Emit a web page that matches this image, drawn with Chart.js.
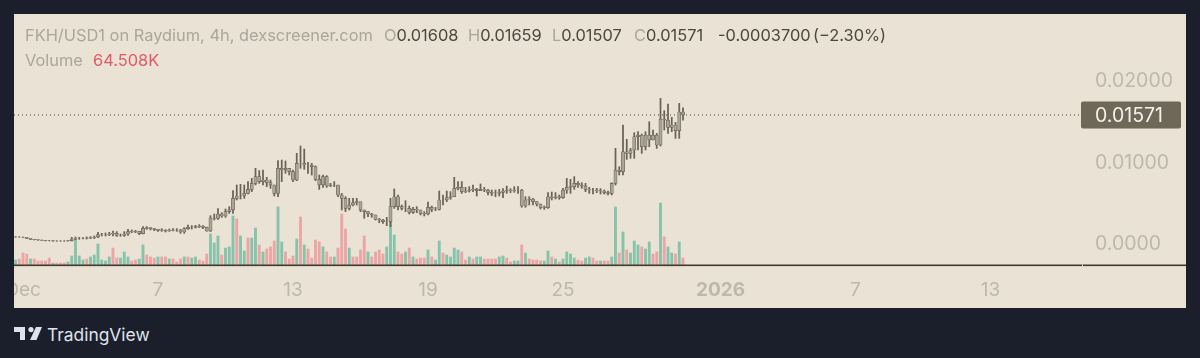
<!DOCTYPE html>
<html><head><meta charset="utf-8">
<script src="https://cdn.jsdelivr.net/npm/chart.js@4/dist/chart.umd.min.js"></script>
<style>
html,body{margin:0;padding:0;width:1200px;height:358px;overflow:hidden;background:#1b1f2c;font-family:Inter,"Noto Sans",sans-serif}
#panel{position:absolute;left:14px;top:14px;width:1172px;height:294px;background:#e9e2d5}
#panel canvas{position:absolute;left:0;top:0}
.t{position:absolute;white-space:nowrap;font-size:16.4px;line-height:20px;color:#aaa69c}
.v{color:#4c483f}
#tv{position:absolute;left:47px;top:323px;font-size:17.4px;line-height:24px;color:#dfe2ea;white-space:nowrap}
#logo{position:absolute;left:14px;top:327px}
</style></head><body>
<div id="panel"><canvas id="c" width="1172" height="294"></canvas></div>
<div class="t" style="left:25px;top:25px">FKH/USD1 on Raydium, 4h, dexscreener.com</div>
<div class="t" style="left:384px;top:25px">O<span class="v">0.01608</span></div>
<div class="t" style="left:468px;top:25px">H<span class="v">0.01659</span></div>
<div class="t" style="left:552px;top:25px">L<span class="v">0.01507</span></div>
<div class="t" style="left:634px;top:25px">C<span class="v">0.01571</span></div>
<div class="t v" style="left:718px;top:25px">-0.0003700</div>
<div class="t v" style="left:813px;top:25px">(−2.30%)</div>
<div class="t" style="left:25px;top:50px">Volume</div>
<div class="t" style="left:93px;top:50px;color:#df5a68">64.508K</div>
<svg id="logo" width="28" height="14" viewBox="0 0 28 14"><path fill="#dfe2ea" d="M0 0h11v13H6V5H0zM17 0a2.6 2.6 0 1 1 0 5.2A2.6 2.6 0 0 1 17 0zM22 0h6l-5.5 13H16z"/></svg>
<div id="tv">TradingView</div>
<script>
// Prices, in units of 0.00001 USD1, one entry per 4h bar
const closes = [74,74,70,57,45,41,37,33,29,29,24,24,24,24,29,49,57,57,57,61,65,74,102,102,102,110,119,94,94,110,139,147,143,115,180,188,176,168,155,160,147,155,160,160,135,176,192,192,200,209,192,147,307,303,356,331,384,405,548,577,577,609,658,732,814,753,773,740,712,609,916,896,916,875,773,977,977,957,957,937,781,712,814,699,712,712,589,548,425,466,495,507,405,384,356,344,290,282,262,262,446,568,446,425,425,376,413,405,364,356,438,413,413,528,528,556,568,671,683,630,638,650,658,642,658,650,622,609,609,622,638,650,642,650,650,454,528,540,507,478,438,434,568,556,568,556,650,683,691,732,712,699,658,650,650,642,638,618,609,732,895,875,1120,1100,1141,1304,1325,1182,1325,1264,1325,1202,1521,1509,1419,1448,1378,1608,1571];
const highs = [78,78,74,61,49,45,41,37,33,33,29,29,29,29,33,70,74,70,65,74,78,86,131,119,123,131,147,139,110,139,168,160,155,143,200,200,188,180,168,176,164,172,176,176,168,188,221,213,217,225,213,195,335,356,421,372,417,446,642,712,720,712,753,793,916,888,896,806,773,712,1010,1018,1006,916,896,1100,1190,1153,990,977,945,834,834,826,732,753,712,609,568,548,548,548,478,405,384,364,344,303,290,315,548,663,589,466,519,454,438,446,405,384,503,454,438,638,589,638,630,806,753,753,683,691,712,671,724,683,658,650,650,658,667,699,667,691,691,658,568,568,548,507,478,454,618,626,618,589,671,793,781,814,753,740,732,683,671,671,667,650,638,740,1161,936,1448,1272,1161,1353,1366,1337,1366,1488,1386,1345,1775,1623,1705,1542,1480,1713,1659];
const lows = [70,70,66,53,41,37,33,29,25,25,20,20,20,20,22,24,41,45,49,49,53,53,65,86,86,90,86,82,82,82,94,127,127,102,110,168,160,151,143,143,135,143,147,143,119,119,168,172,184,188,176,143,139,282,290,315,315,364,364,528,540,548,601,630,712,732,712,691,671,577,569,753,855,834,753,765,916,904,855,834,765,658,683,683,691,691,569,405,384,405,454,466,384,303,323,315,282,249,241,213,200,425,405,405,384,356,364,372,344,331,344,384,397,405,466,507,536,568,650,609,618,626,630,577,642,630,589,581,568,577,556,609,618,622,609,438,438,466,466,454,417,413,425,528,540,536,548,609,609,658,683,671,630,609,601,618,601,601,589,589,711,834,834,1026,1039,1039,1141,1100,1141,1182,1264,1161,1190,1386,1345,1366,1284,1284,1507];
const firstOpen = 76;
// Volume in thousands per bar, and its colour side: g = green, p = pink
const volumes = [46,55,110,101,55,55,37,37,37,64,18,18,18,18,28,83,239,83,46,55,74,92,193,46,37,74,156,64,64,120,74,37,46,55,184,92,74,64,74,74,74,55,55,28,55,74,74,64,74,46,37,101,285,202,267,92,156,166,451,423,267,129,248,248,340,184,120,147,166,221,534,212,120,55,83,239,442,184,147,64,230,212,166,120,74,74,156,469,331,156,74,74,138,267,120,74,120,138,101,166,396,276,120,101,120,156,74,55,64,64,138,74,46,221,110,92,74,156,138,120,46,74,55,74,74,55,55,55,55,74,83,64,28,37,37,184,110,55,46,46,37,37,129,74,55,28,55,120,101,64,46,37,64,74,64,37,37,37,37,74,534,110,304,138,110,221,184,166,147,212,101,120,570,258,166,110,101,212,64.508];
const volumeSides = "gpppgppppp"+"gpppgggggp"+"ggggggppgg"+"gppggpppgp"+"pgpppgpggp"+"ppgggpgggp"+"ggpggpgppp"+"ggpppgpgpp"+"ppgppgpp"+"pgppppgppp"+"pgggppgpgp"+"ppgpggpggg"+"gppgpggppp"+"pggppggpgp"+"pppggpgpgg"+"ggppggppgp"+"pggpgpgggp"+"ggppgpggpg"+"p";
const lastPrice = 0.01571;
const yTickValues = [0, 0.01, 0.02];
const yTickLabels = ["0.0000", "0.01000", "0.02000"];
const xTickBars = [2, 38, 74, 110, 146, 188, 224, 260];
const xTickLabels = ["Dec", "7", "13", "19", "25", "2026", "7", "13"];

const unit = 0.00001;
const bars = closes.map((_, i) => i);
const opens = closes.map((_, i) => i === 0 ? firstOpen : closes[i - 1]);
const INK = '#6a6356', BODY = '#aba596', LABEL = '#bdb8ae';
const FONT = 'Inter, "Noto Sans", sans-serif';

const priceTag = {
  id: 'priceTag',
  afterDraw(chart) {
    const { ctx, scales: { y } } = chart;
    const py = y.getPixelForValue(lastPrice);
    ctx.save();
    ctx.fillStyle = '#3f392f';
    ctx.fillRect(0, chart.chartArea.bottom - 0.5, chart.width, 1.6);
    ctx.fillStyle = '#e9e2d5';
    ctx.fillRect(chart.chartArea.right, chart.chartArea.bottom - 0.5, 1, 1.6);
    ctx.fillStyle = '#6f6757';
    ctx.beginPath();
    ctx.roundRect(chart.chartArea.right - 1, py - 13.5, 100, 27, 2);
    ctx.fill();
    ctx.fillStyle = '#f4f1ea';
    ctx.font = '19.5px ' + FONT;
    ctx.textBaseline = 'middle';
    ctx.fillText(lastPrice.toFixed(5), chart.chartArea.right + 13, py + 1);
    ctx.restore();
  }
};
const noPadding = s => { s.paddingLeft = s.paddingRight = s.paddingTop = s.paddingBottom = 0; };

new Chart(document.getElementById('c'), {
  data: {
    datasets: [
      { type: 'bar', order: 1, grouped: false, yAxisID: 'y', barThickness: 3.2,
        data: bars.map(i => ({ x: i, y: [opens[i] * unit, closes[i] * unit] })),
        backgroundColor: BODY, borderColor: INK, borderWidth: 0.7, borderSkipped: false },
      { type: 'bar', order: 2, grouped: false, yAxisID: 'y', barThickness: 1.1,
        data: bars.map(i => ({ x: i, y: [lows[i] * unit, highs[i] * unit] })),
        backgroundColor: INK, borderWidth: 0 },
      { type: 'bar', order: 3, grouped: false, yAxisID: 'vol', barThickness: 2.2,
        data: bars.map(i => ({ x: i, y: volumes[i] })),
        backgroundColor: bars.map(i => volumeSides[i] === 'g' ? '#86c3a8' : '#eba5a5'), borderWidth: 0 },
      { type: 'line', order: 4, yAxisID: 'y',
        data: [{ x: -0.4, y: lastPrice }, { x: 284.4, y: lastPrice }],
        borderColor: '#4a4438', borderWidth: 1, borderDash: [1, 3], pointRadius: 0 }
    ]
  },
  plugins: [priceTag],
  options: {
    responsive: false, animation: false, events: [],
    layout: { padding: 0 },
    plugins: { legend: { display: false }, tooltip: { enabled: false } },
    scales: {
      x: {
        type: 'linear', offset: false, min: -0.4, max: 284.4,
        grid: { display: false }, border: { display: false },
        afterBuildTicks(s) { s.ticks = xTickBars.map(v => ({ value: v })); },
        afterFit(s) { s.height = 43; noPadding(s); },
        ticks: {
          autoSkip: false, maxRotation: 0, padding: 6,
          callback: v => xTickLabels[xTickBars.indexOf(v)],
          color: LABEL,
          font: c => ({ family: FONT, size: 19,
            weight: c.tick && xTickLabels[xTickBars.indexOf(c.tick.value)] === '2026' ? '700' : '400' })
        }
      },
      y: {
        type: 'linear', position: 'right', min: -0.0027, max: 0.0281,
        grid: { display: false }, border: { display: false },
        afterBuildTicks(s) { s.ticks = yTickValues.map(v => ({ value: v })); },
        afterFit(s) {
          s.width = 104; noPadding(s);
          if (!s._shifted) {
            s._shifted = true;
            const orig = s._computeLabelItems;
            s._computeLabelItems = ca => orig.call(s, ca).map(item => { item.options.translation[1] += 1.5; return item; });
          }
        },
        ticks: {
          padding: 5, color: LABEL, font: { family: FONT, size: 19.5 },
          callback: v => yTickLabels[yTickValues.indexOf(v)]
        }
      },
      vol: { type: 'linear', display: false, min: 0, max: 2310 }
    }
  }
});
</script>
</body></html>
